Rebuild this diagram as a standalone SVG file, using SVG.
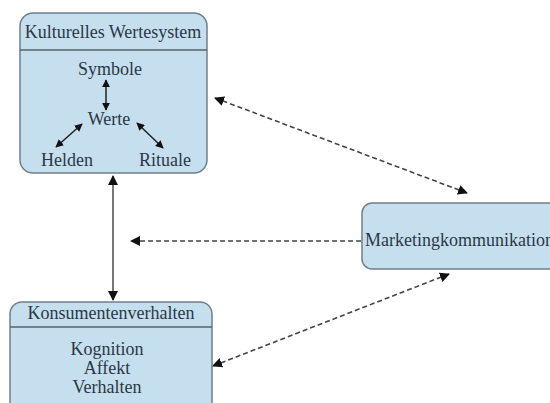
<svg xmlns="http://www.w3.org/2000/svg" width="550" height="403" viewBox="0 0 550 403">
<defs>
<style>
.box{fill:#c6dfee;stroke:#6f7f8c;stroke-width:1.5}
.div{stroke:#55636f;stroke-width:1.5}
.t{font-family:'Liberation Serif','Times New Roman',serif;fill:#2a3846;font-size:18px;text-anchor:middle}
.solid{stroke:#555;stroke-width:1.6;fill:none}
.inner{stroke:#222;stroke-width:1.5;fill:none}
.dash{stroke:#444;stroke-width:1.6;fill:none;stroke-dasharray:5,3}
</style>
<marker id="ah" viewBox="0 0 10 10" refX="9" refY="5" markerWidth="8" markerHeight="8" markerUnits="userSpaceOnUse" orient="auto-start-reverse">
<path d="M0,0 L10,5 L0,10 z" fill="#111"/>
</marker>
<marker id="ah2" viewBox="0 0 10 10" refX="9" refY="5" markerWidth="10" markerHeight="10" markerUnits="userSpaceOnUse" orient="auto-start-reverse">
<path d="M0,0 L10,5 L0,10 z" fill="#111"/>
</marker>
</defs>
<g id="kultur">
<rect class="box" x="20" y="13" width="187" height="160" rx="13"/>
<line class="div" x1="20" y1="50" x2="207" y2="50"/>
<text class="t" font-family="Liberation Serif, serif" x="113" y="38">Kulturelles Wertesystem</text>
<text class="t" font-family="Liberation Serif, serif" x="110" y="75">Symbole</text>
<text class="t" font-family="Liberation Serif, serif" x="109" y="125">Werte</text>
<text class="t" font-family="Liberation Serif, serif" x="67" y="166">Helden</text>
<text class="t" font-family="Liberation Serif, serif" x="165" y="166">Rituale</text>
<line class="inner" x1="106" y1="80" x2="106" y2="110" marker-start="url(#ah)" marker-end="url(#ah)"/>
<line class="inner" x1="82" y1="124" x2="56" y2="147" marker-start="url(#ah)" marker-end="url(#ah)"/>
<line class="inner" x1="137" y1="123" x2="163" y2="148" marker-start="url(#ah)" marker-end="url(#ah)"/>
</g>
<g id="konsum">
<rect class="box" x="10" y="302" width="202" height="115" rx="12"/>
<line class="div" x1="10" y1="327" x2="212" y2="327"/>
<text class="t" font-family="Liberation Serif, serif" x="111" y="319">Konsumentenverhalten</text>
<text class="t" font-family="Liberation Serif, serif" x="107" y="355">Kognition</text>
<text class="t" font-family="Liberation Serif, serif" x="107" y="374">Affekt</text>
<text class="t" font-family="Liberation Serif, serif" x="107" y="393">Verhalten</text>
</g>
<g id="marketing">
<rect class="box" x="362" y="203" width="200" height="66" rx="10"/>
<text class="t" font-family="Liberation Serif, serif" x="365" y="246" style="text-anchor:start">Marketingkommunikation</text>
</g>
<g id="connectors">
<line class="solid" x1="113" y1="176" x2="113" y2="300" marker-start="url(#ah2)" marker-end="url(#ah2)"/>
<line class="dash" x1="361" y1="241" x2="131" y2="241" marker-end="url(#ah2)"/>
<line class="dash" x1="215" y1="98" x2="467" y2="193" marker-start="url(#ah2)" marker-end="url(#ah2)"/>
<line class="dash" x1="449" y1="274" x2="213" y2="366" marker-start="url(#ah2)" marker-end="url(#ah2)"/>
</g>
</svg>
